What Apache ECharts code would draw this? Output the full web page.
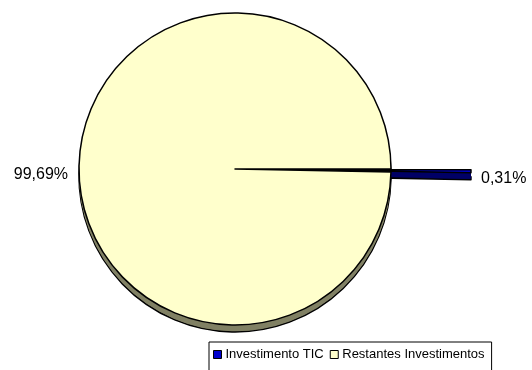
<!DOCTYPE html>
<html>
<head>
<meta charset="utf-8">
<script src="https://cdn.jsdelivr.net/npm/echarts@6/dist/echarts.min.js"></script>
<style>
  html, body { margin: 0; padding: 0; background: #ffffff; }
  #chart { width: 532px; height: 370px; }
</style>
</head>
<body>
<div id="chart"></div>
<script>
// Share of investment: ICT vs. the rest (percent)
const categories = ['Investimento TIC', 'Restantes Investimentos'];
const shares = [0.31, 99.69];
const topColors = ['#0000CC', '#FFFFCC'];
const sideColors = ['#000066', '#808064'];

const fmt = v => v.toFixed(2).replace('.', ',') + '%';
const FONT = 'Arial, "Liberation Sans", sans-serif';

const chart = echarts.init(document.getElementById('chart'), null, { renderer: 'canvas' });

const CX = 235, TOP_CY = 169, DEPTH = 7, R = 156;

// one layer of the pie; the side is built from stacked layers below the top face
function pieLayer(cy, colors, opts) {
  return {
    type: 'pie',
    center: [CX, cy],
    radius: [0, R],
    startAngle: 0,
    clockwise: true,
    avoidLabelOverlap: false,
    selectedMode: 'multiple',
    selectedOffset: 80,
    silent: true,
    animation: false,
    emphasis: { disabled: true },
    label: opts.labels ? {
      show: true,
      position: 'outside',
      formatter: p => fmt(p.value),
      fontFamily: FONT,
      fontSize: 16,
      color: '#000'
    } : { show: false },
    labelLine: { show: false, length: 3, length2: 0 },
    itemStyle: opts.border ? { borderColor: '#000', borderWidth: 1.5 } : { borderWidth: 0 },
    data: categories.map((c, i) => ({
      name: c,
      value: shares[i],
      selected: i === 0,
      itemStyle: { color: colors[i] },
      label: opts.labels ? { padding: i === 1 ? [5, 3, 0, 0] : [5, 0, 0, 2] } : undefined
    }))
  };
}

const series = [pieLayer(TOP_CY + DEPTH, sideColors, { border: true, labels: true })];
for (let d = DEPTH - 1; d >= 1; d--) {
  series.push(pieLayer(TOP_CY + d, sideColors, { border: false, labels: false }));
}
series.push(pieLayer(TOP_CY, topColors, { border: true, labels: false }));

chart.setOption({
  backgroundColor: '#ffffff',
  legend: {
    data: categories.map((c, i) => ({
      name: c,
      itemStyle: { color: topColors[i], borderColor: '#000', borderWidth: 1 }
    })),
    left: 209,
    top: 342,
    orient: 'horizontal',
    itemWidth: 8,
    itemHeight: 8,
    itemGap: 6,
    padding: [6, 7, 12, 4],
    borderColor: '#000',
    borderWidth: 1,
    backgroundColor: '#fff',
    selectedMode: false,
    icon: 'rect',
    textStyle: {
      fontFamily: FONT,
      fontSize: 13,
      color: '#000',
      padding: [0, 0, 0, -1]
    }
  },
  series: series
});
</script>
</body>
</html>
